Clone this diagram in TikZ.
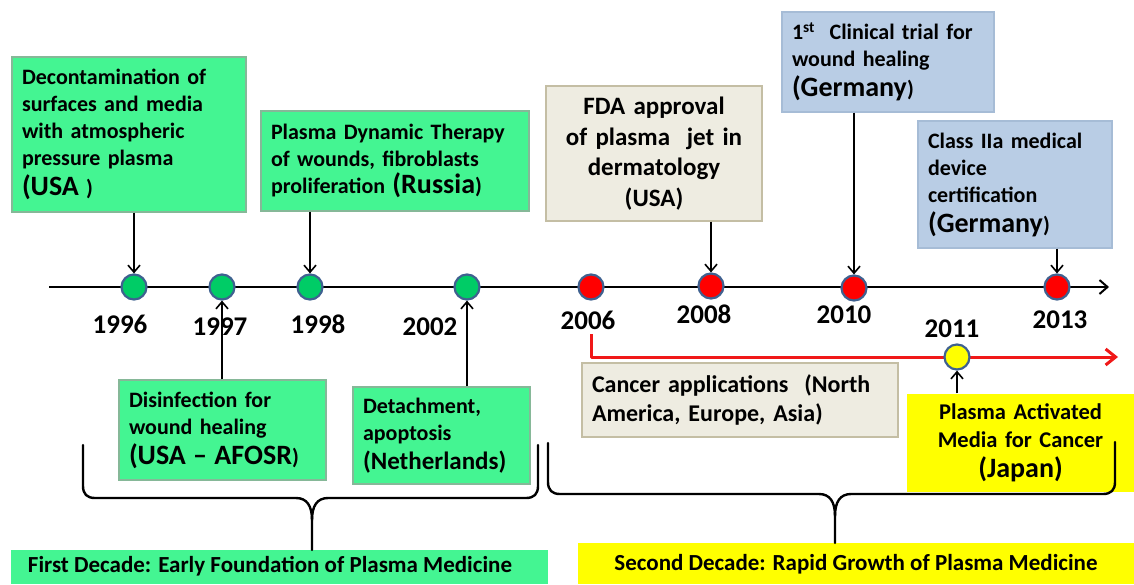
\documentclass[tikz,border=0pt]{standalone}
\usepackage{fontspec}
\setmainfont{Carlito}
\usetikzlibrary{arrows.meta}
\definecolor{mint}{HTML}{44F592}
\definecolor{mintline}{HTML}{86B898}
\definecolor{dotgreen}{HTML}{00CC66}
\definecolor{dotline}{HTML}{3F6190}
\definecolor{beige}{HTML}{EEECE1}
\definecolor{beigeline}{HTML}{C4BEA4}
\definecolor{steel}{HTML}{B9CDE5}
\definecolor{steelline}{HTML}{A6BCD6}
\definecolor{yel}{HTML}{FFFF00}
\definecolor{redline}{HTML}{F01818}
\newcommand{\fsz}[2]{\fontsize{#1}{#2}\selectfont}
\begin{document}
\begin{tikzpicture}[x=1pt,y=-1pt,
  box/.style={rectangle, line width=1.2pt, inner xsep=10pt, inner ysep=0pt, font=\bfseries\fsz{22}{27}},
  gbox/.style={box, fill=mint, draw=mintline, align=left},
  bbox/.style={box, fill=steel, draw=steelline, align=left},
  ebox/.style={box, fill=beige, draw=beigeline},
  ybox/.style={box, fill=yel, align=center},
  dot/.style={circle, minimum size=25pt, inner sep=0pt, line width=2.2pt, draw=dotline},
  year/.style={font=\bfseries\fsz{27}{30}, anchor=base, inner sep=0pt},
  evarrow/.style={line width=1.6pt, -{Straight Barb[length=7pt,width=12pt]}},
  brace/.style={line width=2.4pt, line join=round, line cap=round},
  biglab/.style={font=\bfseries\fsz{23}{27}, inner sep=0pt, anchor=base},
  labbox/.style={inner sep=0pt, anchor=north west}
]
\useasboundingbox (0,0) rectangle (1134,584);
\fill[white] (0,0) rectangle (1134,584);

% event boxes
\node[gbox, minimum width=234pt, minimum height=155pt, text width=214pt] (decon) at (129,134.5)
  {Decontamination of\\surfaces and media\\with atmospheric\\pressure plasma\\[3pt]{\fsz{28}{30}(USA} )};
\node[gbox, minimum width=268pt, minimum height=100pt, text width=248pt] (pdt) at (395,161)
  {Plasma Dynamic Therapy\\of wounds, fibroblasts\\proliferation {\fsz{28}{30}(Russia}{)}};
\node[ebox, align=center, minimum width=216pt, minimum height=135pt, text width=196pt, font=\bfseries\fsz{25}{30.5}] (fda) at (654,153.5)
  {FDA approval\\of plasma\ \ jet in\\dermatology\\(USA)};
\node[bbox, minimum width=212pt, minimum height=100pt, text width=192pt] (clin) at (888,62)
  {1\textsuperscript{st}\ \ Clinical trial for\\wound healing\\[3pt]{\fsz{28}{30}(Germany}{)}};
\node[bbox, minimum width=194pt, minimum height=127pt, text width=174pt] (cls) at (1015,184.5)
  {Class IIa medical\\device\\certification\\[3pt]{\fsz{28}{30}(Germany}{)}};
\node[gbox, minimum width=207pt, minimum height=100pt, text width=187pt] (dis) at (222.5,430)
  {Disinfection for\\wound healing\\[3pt]{\fsz{28}{30}(USA -- AFOSR}{)}};
\node[gbox, minimum width=177pt, minimum height=97pt, text width=157pt] (det) at (441.5,435.5)
  {Detachment,\\apoptosis\\[2pt]{\fsz{25}{28}(Netherlands)}};
\node[ebox, align=left, minimum width=316pt, minimum height=74pt, text width=296pt, font=\bfseries\fsz{24}{29}] (can) at (740,400)
  {Cancer applications\ \ (North\\America, Europe, Asia)};
\node[ybox, minimum width=227pt, minimum height=98pt, text width=207pt, font=\bfseries\fsz{22.5}{28}] (pam) at (1020.5,443)
  {Plasma Activated\\Media for Cancer\\[2pt]{\fsz{28}{30}(Japan)}};

% bottom labels
\node[labbox, fill=mint, minimum width=537pt, minimum height=34pt] (lab1box) at (11,550) {};
\node[labbox, fill=yel, minimum width=556pt, minimum height=41pt] (lab2box) at (578,543) {};
\node[biglab] (lab1) at (270,572) {First Decade: Early Foundation of Plasma Medicine};
\node[biglab] (lab2) at (856,570) {Second Decade: Rapid Growth of Plasma Medicine};

% timeline
\coordinate (tl0) at (49,287);
\coordinate (tl1) at (1109,287);
\draw[line width=2pt, -{Straight Barb[length=8pt,width=14pt]}] (tl0) -- (tl1);

% cancer red arrow
\coordinate (r0) at (591,334);
\coordinate (r1) at (591,357);
\coordinate (r2) at (1118,357);
\draw[redline, line width=3pt, line join=round, -{Straight Barb[length=10pt,width=16pt]}] (r0) -- (r1) -- (r2);

% years
\node[year] (y1996) at (120,333) {1996};
\node[year] (y1997) at (220,335) {1997};
\node[year] (y1998) at (318,333) {1998};
\node[year] (y2002) at (430,335) {2002};
\node[year] (y2006) at (588,329) {2006};
\node[year] (y2008) at (704,323) {2008};
\node[year] (y2010) at (844,323) {2010};
\node[year] (y2011) at (952,337) {2011};
\node[year] (y2013) at (1060,328) {2013};

% dots
\node[dot, fill=dotgreen] (d1996) at (134,287) {};
\node[dot, fill=dotgreen] (d1997) at (222,287) {};
\node[dot, fill=dotgreen] (d1998) at (310,287) {};
\node[dot, fill=dotgreen] (d2002) at (467,287) {};
\node[dot, fill=red] (d2006) at (591,287) {};
\node[dot, fill=red] (d2008) at (711,286) {};
\node[dot, fill=red] (d2010) at (854,288) {};
\node[dot, fill=red] (d2013) at (1057,287) {};
\node[dot, fill=yel] (d2011) at (957,357) {};

% event arrows
\draw[evarrow] (decon.south -| d1996) -- (d1996.north);
\draw[evarrow] (pdt.south -| d1998) -- (d1998.north);
\draw[evarrow] (fda.south -| d2008) -- (d2008.north);
\draw[evarrow] (clin.south -| d2010) -- (d2010.north);
\draw[evarrow] (cls.south -| d2013) -- (d2013.north);
\draw[evarrow] (dis.north -| d1997) -- (d1997.south);
\draw[evarrow] (det.north -| d2002) -- (d2002.south);
\draw[evarrow] (pam.north -| d2011) -- (d2011.south);

% braces
\draw[brace] (83,445) -- (83,486) .. controls (83,494) and (87,498) .. (95,498) -- (296,498)
  .. controls (307,498) and (312,506) .. (312,520) -- (312,550);
\draw[brace] (312,520) .. controls (312,506) and (317,498) .. (328,498) -- (526,498)
  .. controls (534,498) and (538,494) .. (538,486) -- (538,445);
\draw[brace] (548,443) -- (548,482) .. controls (548,490) and (552,494) .. (560,494) -- (819,494)
  .. controls (830,494) and (835,502) .. (835,516) -- (835,543);
\draw[brace] (835,516) .. controls (835,502) and (840,494) .. (851,494) -- (1103,494)
  .. controls (1111,494) and (1115,490) .. (1115,482) -- (1115,442);
\end{tikzpicture}
\end{document}
